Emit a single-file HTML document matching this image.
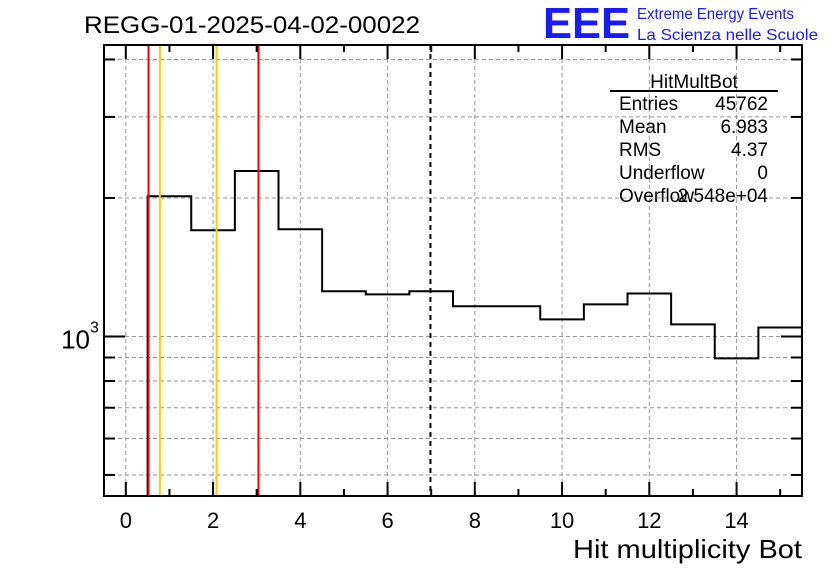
<!DOCTYPE html>
<html><head><meta charset="utf-8"><style>
body{margin:0;background:#fff;}
svg{display:block;font-family:"Liberation Sans",sans-serif;}
</style></head><body>
<svg id="c" width="836" height="572" viewBox="0 0 836 572">
<rect width="836" height="572" fill="#fff"/>
<g id="grid"></g>
<g id="marks"></g>
<g id="axes"></g>
<text x="84" y="33" font-size="24" textLength="336" lengthAdjust="spacingAndGlyphs">REGG-01-2025-04-02-00022</text>
<text x="543" y="38" font-size="44" fill="#1a1aff" font-weight="bold" textLength="87" lengthAdjust="spacingAndGlyphs">EEE</text>
<text x="637" y="19" font-size="16" fill="#1a1aff" textLength="157" lengthAdjust="spacingAndGlyphs">Extreme Energy Events</text>
<text x="637" y="40" font-size="16" fill="#1a1aff" textLength="181" lengthAdjust="spacingAndGlyphs">La Scienza nelle Scuole</text>
<text x="802" y="558" font-size="26" text-anchor="end" textLength="229" lengthAdjust="spacingAndGlyphs">Hit multiplicity Bot</text>
<g font-size="19">
<text x="694" y="88" text-anchor="middle">HitMultBot</text>
<line x1="610" y1="91" x2="778" y2="91" stroke="#000" stroke-width="2"/>
<text x="619" y="110">Entries</text><text x="768" y="110" text-anchor="end">45762</text>
<text x="619" y="133">Mean</text><text x="768" y="133" text-anchor="end">6.983</text>
<text x="619" y="156">RMS</text><text x="768" y="156" text-anchor="end">4.37</text>
<text x="619" y="179">Underflow</text><text x="768" y="179" text-anchor="end">0</text>
<text x="619" y="202">Overflow</text><text x="768" y="202" text-anchor="end">2.548e+04</text>
</g>
</svg>
<script>
const binEdgesStart = -0.5;
const binCounts = [0, 2017, 1701, 2289, 1710, 1254, 1234, 1254, 1163, 1163, 1089, 1174, 1240, 1062, 896, 1046];
const xTickLabels = [0, 2, 4, 6, 8, 10, 12, 14];
const yMinorValues = [500, 600, 700, 800, 900, 2000, 3000, 4000];
const yMajorValues = [1000];
const redLines = [0.52, 3.04];
const yellowLines = [0.78, 2.08];
const meanLine = [6.983];

const L=104,R=802,T=45,B=496, xmin=-0.5,xmax=15.5, ymin=450,ymax=4300;
const X=v=>L+(v-xmin)/(xmax-xmin)*(R-L);
const Y=v=>{ if(v<=0) return B+5; return B-(Math.log10(v)-Math.log10(ymin))/(Math.log10(ymax)-Math.log10(ymin))*(B-T); };
const NS="http://www.w3.org/2000/svg";
function mk(t,a,p){const e=document.createElementNS(NS,t);for(const k in a)e.setAttribute(k,a[k]);p.appendChild(e);return e;}
const grid=document.getElementById('grid'),marks=document.getElementById('marks'),axes=document.getElementById('axes');
const gd={stroke:'#999','stroke-width':1,'stroke-dasharray':'4,3'};
xTickLabels.forEach(v=>{const l=mk('line',Object.assign({x1:X(v),x2:X(v),y1:T,y2:B},gd),grid);

});
yMinorValues.concat(yMajorValues).forEach(v=>{const l=mk('line',Object.assign({x1:L,x2:R,y1:Y(v),y2:Y(v)},gd),grid);

});
let d='';
binCounts.forEach((c,i)=>{const x0=X(binEdgesStart+i),x1=X(binEdgesStart+i+1),y=Math.min(Y(c),B);
d+=(i===0?`M${x0},${B}`:'')+`L${x0},${y}L${x1},${y}`;});
const cl=mk('clipPath',{id:'pc'},marks);mk('rect',{x:L,y:T,width:R-L,height:B-T},cl);
const h=mk('path',{d:d,fill:'none',stroke:'#000','stroke-width':2,'clip-path':'url(#pc)'},marks);


function vline(v,col,dash,name){const l=mk('line',{x1:X(v),x2:X(v),y1:T,y2:B,stroke:col,'stroke-width':2},marks);
if(dash)l.setAttribute('stroke-dasharray',dash);

}
redLines.forEach(v=>vline(v,'#f00',null,'red-marker-line'));
yellowLines.forEach(v=>vline(v,'#fc0',null,'yellow-marker-line'));
meanLine.forEach(v=>vline(v,'#000','5,4','mean-line'));
const f=mk('rect',{x:L,y:T,width:R-L,height:B-T,fill:'none',stroke:'#000','stroke-width':2},axes);


for(let v=0;v<=15;v++){const len=v%2===0?14:7;
mk('line',{x1:X(v),x2:X(v),y1:B,y2:B-len,stroke:'#000','stroke-width':2},axes);
mk('line',{x1:X(v),x2:X(v),y1:T,y2:T+len,stroke:'#000','stroke-width':2},axes);}
xTickLabels.forEach(v=>{const t=mk('text',{x:X(v),y:528,'font-size':22,'text-anchor':'middle'},axes);t.textContent=v;

});
yMinorValues.forEach(v=>{mk('line',{x1:L,x2:L+11,y1:Y(v),y2:Y(v),stroke:'#000','stroke-width':2},axes);
mk('line',{x1:R,x2:R-11,y1:Y(v),y2:Y(v),stroke:'#000','stroke-width':2},axes);});
yMajorValues.forEach(v=>{mk('line',{x1:L,x2:L+21,y1:Y(v),y2:Y(v),stroke:'#000','stroke-width':2},axes);
mk('line',{x1:R,x2:R-21,y1:Y(v),y2:Y(v),stroke:'#000','stroke-width':2},axes);
const t=mk('text',{x:90,y:Y(v)+12,'font-size':26,'text-anchor':'end'},axes);t.textContent='10';


const s=mk('text',{x:90,y:Y(v)-4,'font-size':16},axes);s.textContent=String(Math.round(Math.log10(v)));});
</script>
</body></html>
